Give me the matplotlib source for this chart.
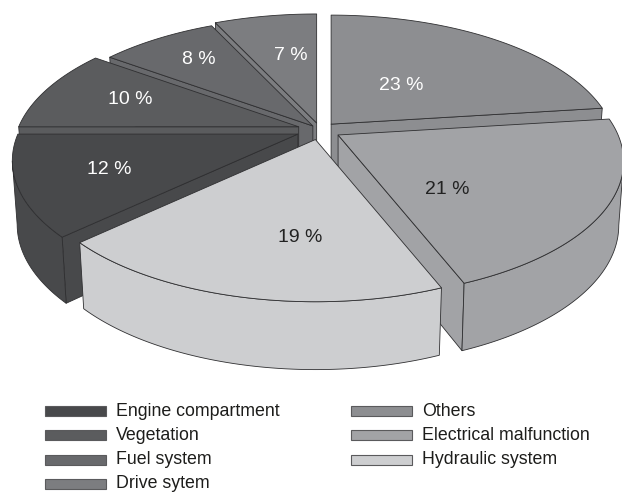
import numpy as np
import matplotlib
matplotlib.use("Agg")
import matplotlib.pyplot as plt
from matplotlib.patches import Polygon, Rectangle

plt.rcParams['font.family'] = ['Liberation Sans', 'DejaVu Sans']

# Slices listed clockwise from twelve o'clock
categories = ["Others", "Electrical malfunction", "Hydraulic system",
              "Engine compartment", "Vegetation", "Fuel system", "Drive sytem"]
shares = [23, 21, 19, 12, 10, 8, 7]
explode = [0.06, 0.075, 0.075, 0.085, 0.08, 0.04, 0.055]
colors = ["#8d8e91", "#a2a3a6", "#cdced0", "#48494b", "#5b5c5e", "#68696c", "#7c7d80"]
label_colors = ["white", "#222222", "#222222", "white", "white", "white", "white"]
label_pos = [(401, 85), (447, 189), (300, 237), (109, 170), (130, 100), (199, 59), (291, 55)]

legend_left = ["Engine compartment", "Vegetation", "Fuel system", "Drive sytem"]
legend_right = ["Others", "Electrical malfunction", "Hydraulic system"]

# Pie geometry in figure pixels
CX, CY = 320, 130
RX, RY = 280, 130.4
PERSP = 0.196
DEPTH = 63
EDGE = "#2f2f31"
LW = 0.6
draw_order = [0, 6, 5, 4, 3, 1, 2]


def project(theta):
    """Rim offset from a slice apex for angles in degrees, seen in perspective."""
    t = np.radians(theta)
    u, v = np.cos(t), np.sin(t)
    d = 1 + PERSP * v
    return RX * u / d, -RY * v / d


def lower(x, y, ax_, ay_):
    """Drop a point of the top face onto the underside of the disc."""
    return ax_ + (x - ax_) * 0.983, y + DEPTH + 0.03 * (y - ay_)


fig = plt.figure(figsize=(6.22, 4.93), dpi=100)
ax = fig.add_axes([0, 0, 1, 1])
ax.set_xlim(0, 622)
ax.set_ylim(493, 0)
ax.axis("off")

edges = 90 - np.cumsum([0] + shares) * 3.6

for i in draw_order:
    start, end = edges[i], edges[i + 1]
    mid = np.radians((start + end) / 2)
    ax_ = CX + RX * explode[i] * np.cos(mid)
    ay_ = CY - RY * explode[i] * np.sin(mid)

    th = np.linspace(start, end, 160)
    dx, dy = project(th)
    rx_, ry_ = ax_ + dx, ay_ + dy
    bx, by = lower(rx_, ry_, ax_, ay_)
    abx, aby = lower(ax_, ay_, ax_, ay_)
    style = dict(facecolor=colors[i], edgecolor=EDGE, linewidth=LW, joinstyle="round")

    # Only the radial faces turned towards the viewer are drawn
    for k, normal in ((0, start + 90), (-1, end - 90)):
        if np.sin(np.radians(normal)) < 0:
            ax.add_patch(Polygon([(ax_, ay_), (rx_[k], ry_[k]), (bx[k], by[k]), (abx, aby)], **style))

    # Outer wall: the part of the rim in front of the silhouette points
    front = np.sin(np.radians(th)) < -PERSP
    if front.any():
        wall = np.r_[np.c_[rx_[front], ry_[front]], np.c_[bx[front], by[front]][::-1]]
        ax.add_patch(Polygon(wall, **style))

    top = np.r_[[[ax_, ay_]], np.c_[rx_, ry_]]
    ax.add_patch(Polygon(top, **style))

for share, pos, col in zip(shares, label_pos, label_colors):
    ax.text(pos[0], pos[1], f"{share} %", color=col, fontsize=14,
            ha="center", va="center")


def draw_legend(names, swatch_x, text_x):
    for row, name in enumerate(names):
        y = 411 + row * 24.3
        ax.add_patch(Rectangle((swatch_x, y - 5), 61, 10,
                               facecolor=colors[categories.index(name)],
                               edgecolor="#5a5a5c", linewidth=0.8))
        ax.text(text_x, y, name, color="#1d1d1b", fontsize=12.8, ha="left", va="center")


draw_legend(legend_left, 45, 116)
draw_legend(legend_right, 351, 422)

fig.savefig("out.png", dpi=100, facecolor="white")
